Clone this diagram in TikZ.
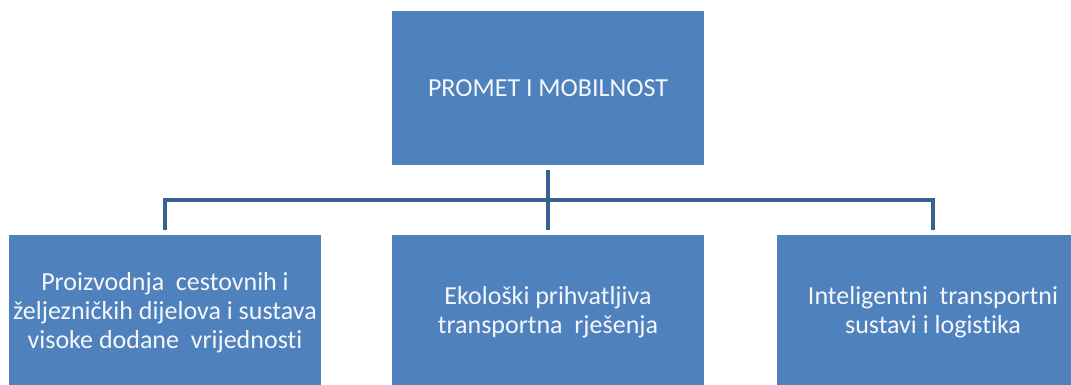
\documentclass[tikz,border=0pt]{standalone}
\usepackage{fontspec}
\setmainfont{Carlito}[Ligatures={NoCommon}]
\definecolor{boxfill}{HTML}{4F81BD}
\definecolor{linec}{HTML}{3A6090}
\definecolor{txt}{HTML}{F4F7FB}
\begin{document}
\begin{tikzpicture}[x=1pt,y=-1pt,
  box/.style={draw=none,fill=boxfill,minimum width=312pt,text=txt,align=center,
    font=\fontsize{26}{29}\selectfont,inner sep=0pt},
  conn/.style={draw=linec,line width=4pt,shorten <=5pt,shorten >=5pt}]
\useasboundingbox (0,0) rectangle (1071,385);
\clip (0,0) rectangle (1071,385);
\node[box,minimum height=154pt] (top) at (548,88) {PROMET I MOBILNOST};
\node[box,minimum height=155pt] (left) at (165,312.5) {Proizvodnja\ \ cestovnih i\\željezničkih dijelova i sustava\\visoke dodane\ \ vrijednosti};
\node[box,minimum height=155pt] (mid) at (548,312.5) {Ekološki prihvatljiva\\transportna\ \ rješenja};
\node[box,minimum height=155pt] (right) at (933,312.5) {Inteligentni\ \ transportni\\sustavi i logistika};
\coordinate (bus) at (548,200);
\draw[conn] (top) -- (mid);
\draw[conn] (left.north) |- (bus) -| (right.north);
\end{tikzpicture}
\end{document}
